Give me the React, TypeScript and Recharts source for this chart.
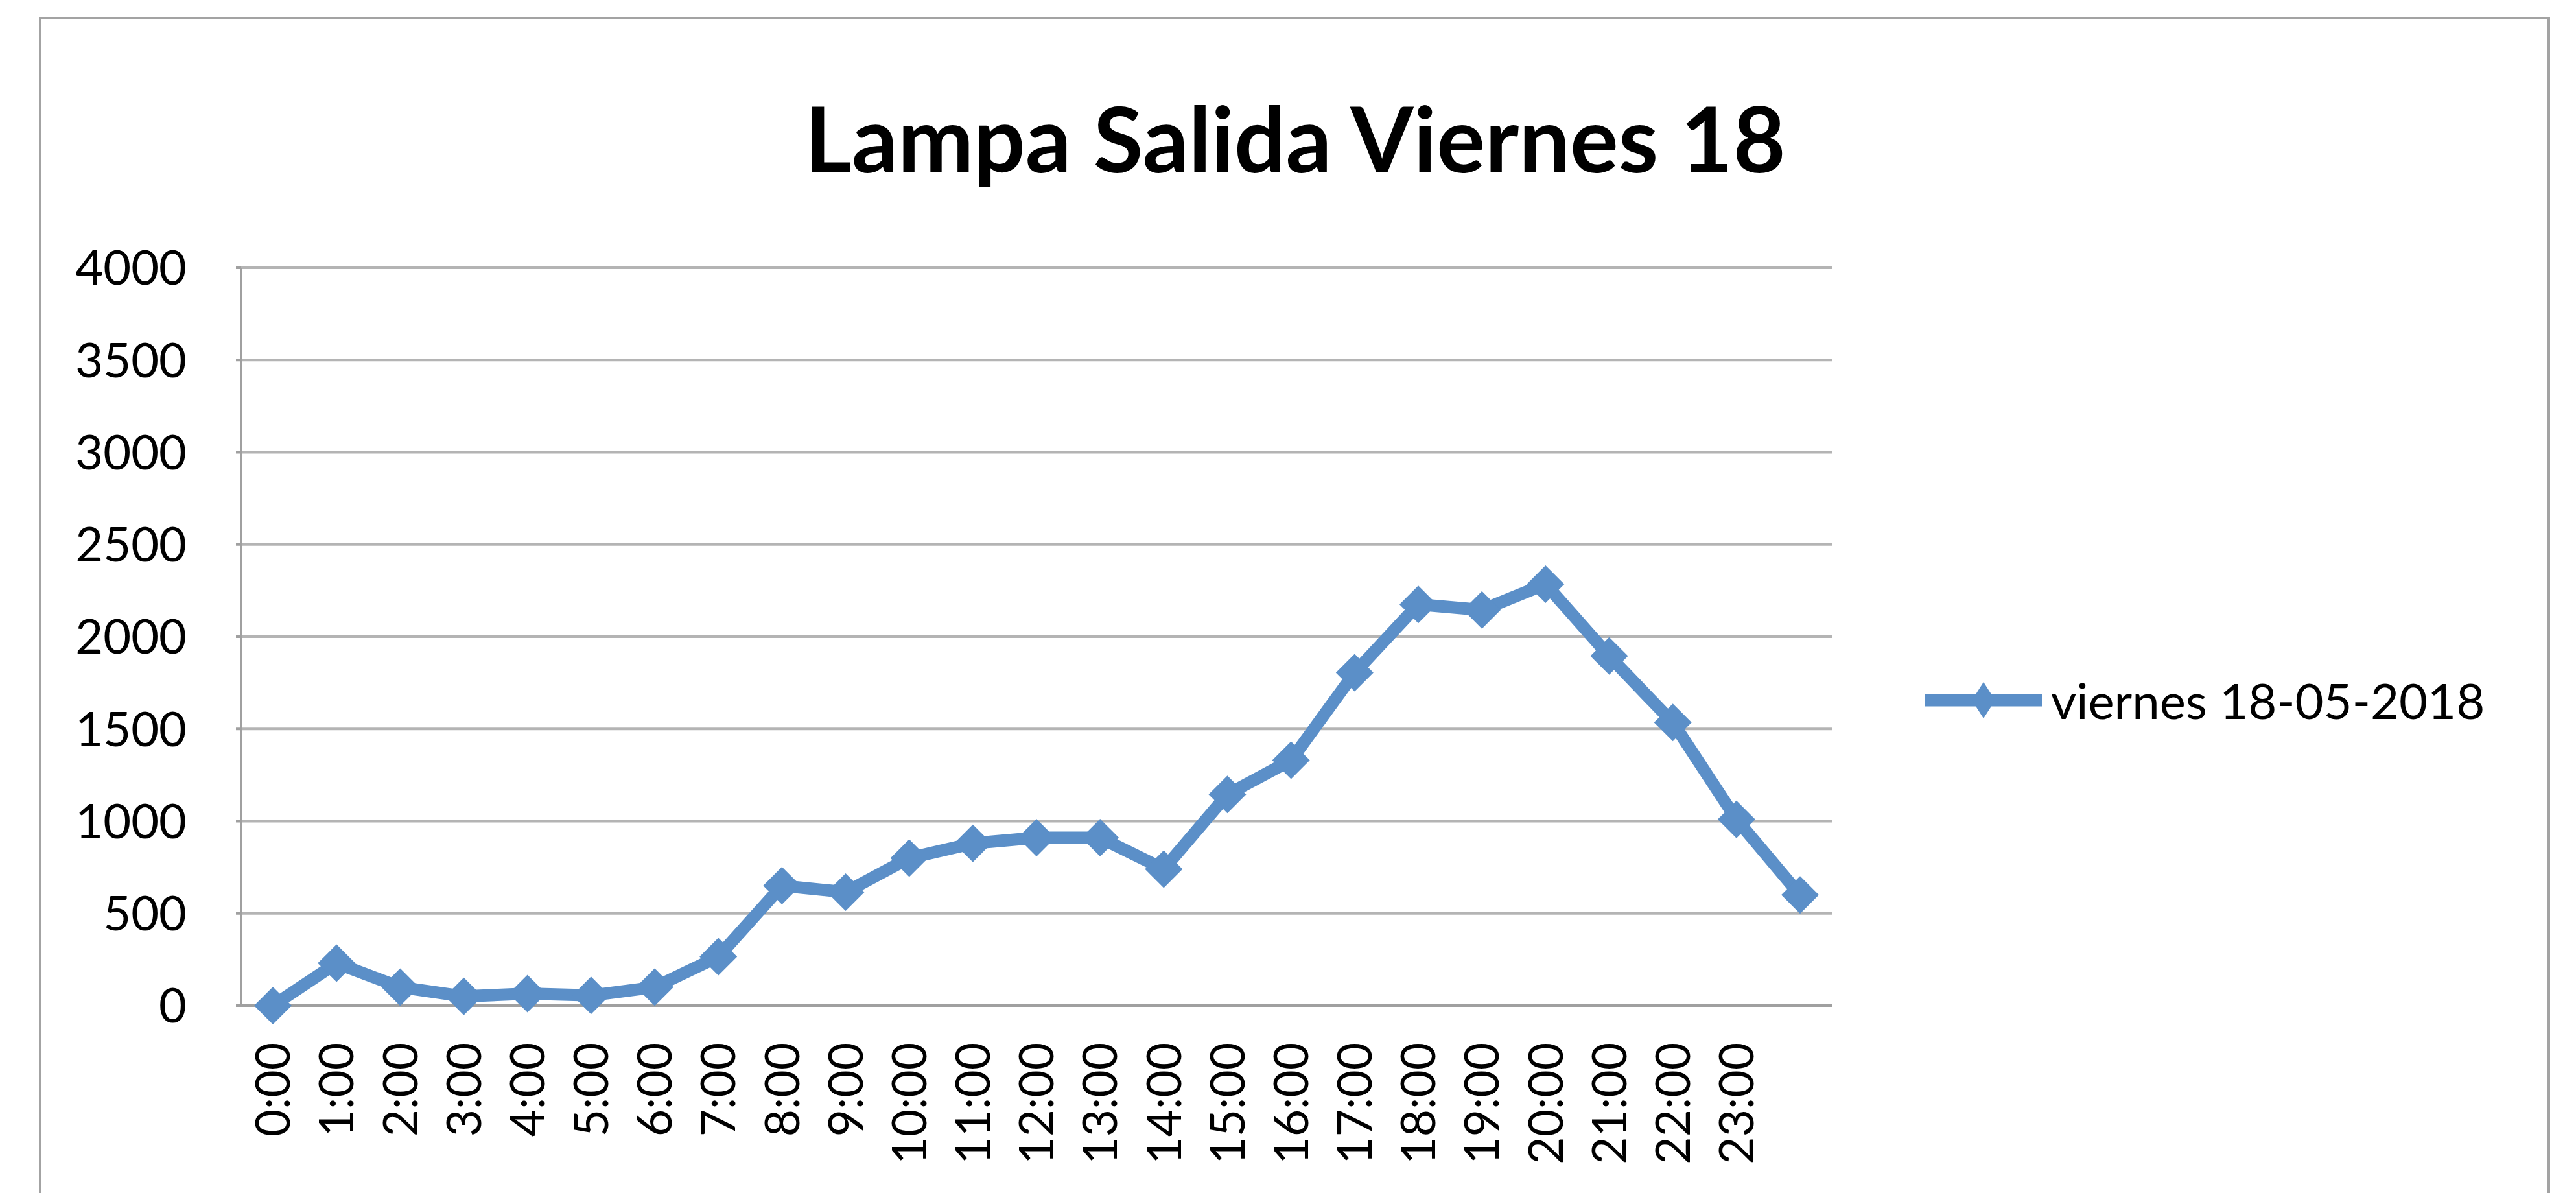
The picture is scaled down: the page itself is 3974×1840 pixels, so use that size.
import { CartesianGrid, Line, LineChart, XAxis, YAxis } from "recharts";

// hourly departures, Lampa, friday 18-05-2018
const hours = [
  "0:00", "1:00", "2:00", "3:00", "4:00", "5:00", "6:00", "7:00", "8:00", "9:00",
  "10:00", "11:00", "12:00", "13:00", "14:00", "15:00", "16:00", "17:00", "18:00",
  "19:00", "20:00", "21:00", "22:00", "23:00", "",
];
const salidas = [
  0, 230, 100, 50, 65, 55, 100, 265, 650, 615, 800, 880, 910, 910, 740, 1145, 1330,
  1805, 2175, 2145, 2285, 1895, 1535, 1010, 600,
];
const yTicks = [0, 500, 1000, 1500, 2000, 2500, 3000, 3500, 4000];
const seriesName = "viernes 18-05-2018";
const title = "Lampa Salida Viernes 18";

const data = hours.map((h, i) => ({ hora: h, valor: salidas[i] }));

const FONT = "Lato, 'Open Sans', sans-serif";
const BLUE = "#5b8fc8";
const GRAY = "#a0a0a0";

const Diamond = (props: any) => {
  const { cx, cy, index } = props;
  if (cx == null || cy == null) return null;
  const r = 29;
  return (
    <path
      key={`d-${index}`}
      d={`M${cx},${cy - r} L${cx + r},${cy} L${cx},${cy + r} L${cx - r},${cy} Z`}
      fill={BLUE}
    />
  );
};

const HourTick = (props: any) => {
  const { x, y, payload } = props;
  return (
    <g transform={`translate(${x},${y + 57})`}>
      <text
        transform="rotate(-90)"
        textAnchor="end"
        dy="0.36em"
        fontSize={73}
        fontFamily={FONT}
        fill="#000"
      >
        {payload.value}
      </text>
    </g>
  );
};

export default function App() {
  return (
    <div
      style={{
        position: "absolute",
        left: 0,
        top: 0,
        width: 3974,
        height: 1840,
        overflow: "hidden",
        background: "#fff",
      }}
    >
      <div
        style={{
          position: "absolute",
          left: 60,
          top: 26,
          width: 3866,
          height: 1900,
          border: "4px solid #a3a3a3",
        }}
      />
      <div
        style={{
          position: "absolute",
          left: 998,
          top: 142,
          width: 2000,
          textAlign: "center",
          fontFamily: FONT,
          fontWeight: 700,
          fontSize: 140,
          lineHeight: "140px",
          color: "#000",
        }}
      >
        {title}
      </div>

      {/* legend, drawn outside the chart so it does not eat plot space */}
      <div
        style={{
          position: "absolute",
          left: 2970,
          top: 1050,
          display: "flex",
          alignItems: "center",
          fontFamily: FONT,
        }}
      >
        <svg width={180} height={60}>
          <line x1={0} y1={30} x2={180} y2={30} stroke={BLUE} strokeWidth={19} />
          <path d="M90,2 L108,30 L90,58 L72,30 Z" fill={BLUE} />
        </svg>
        <span style={{ marginLeft: 14, fontSize: 76, color: "#000", lineHeight: "60px" }}>
          {seriesName}
        </span>
      </div>

      <div style={{ position: "absolute", left: 0, top: 0 }}>
        <LineChart
          width={3974}
          height={1840}
          data={data}
          margin={{ top: 413, right: 1148, bottom: 89, left: 72 }}
        >
          <CartesianGrid vertical={false} stroke="#b4b4b4" strokeWidth={4} />
          <XAxis
            dataKey="hora"
            interval={0}
            padding={{ left: 49, right: 49 }}
            height={200}
            tickSize={0}
            tickMargin={0}
            tickLine={false}
            axisLine={{ stroke: GRAY, strokeWidth: 4 }}
            tick={<HourTick />}
          />
          <YAxis
            domain={[0, 4000]}
            ticks={yTicks}
            width={300}
            tickSize={8}
            tickMargin={76}
            tickLine={{ stroke: GRAY, strokeWidth: 4 }}
            axisLine={{ stroke: GRAY, strokeWidth: 4 }}
            tick={{ fontSize: 74, fontFamily: FONT, fill: "#000" }}
          />
          <Line
            type="linear"
            dataKey="valor"
            name={seriesName}
            stroke={BLUE}
            strokeWidth={19}
            dot={Diamond}
            activeDot={false}
            isAnimationActive={false}
          />
        </LineChart>
      </div>
    </div>
  );
}
